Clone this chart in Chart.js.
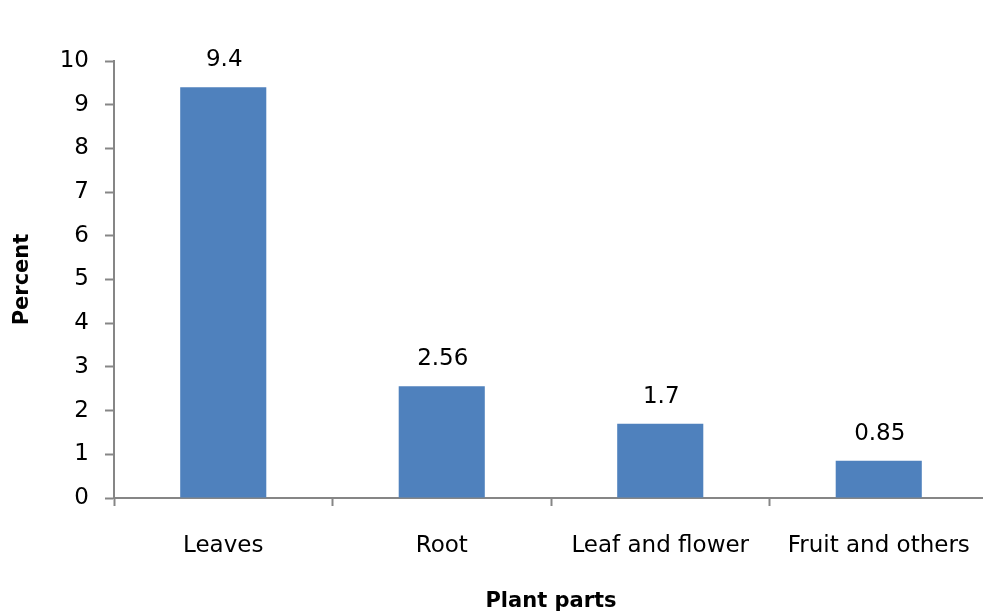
<!DOCTYPE html>
<html>
<head>
<meta charset="utf-8">
<script src="https://cdn.jsdelivr.net/npm/chart.js@4/dist/chart.umd.min.js"></script>
<style>
  html, body { margin: 0; padding: 0; background: #ffffff; overflow: hidden; }
  #wrap { position: relative; width: 988px; height: 614px; }
</style>
</head>
<body>
<div id="wrap"><canvas id="chart"></canvas></div>
<script>
// Share of plant parts used
const categories = ['Leaves', 'Root', 'Leaf and flower', 'Fruit and others'];
const percentValues = [9.4, 2.56, 1.7, 0.85];
const yTicks = [0, 1, 2, 3, 4, 5, 6, 7, 8, 9, 10];

const FONT = '"DejaVu Sans", Verdana, sans-serif';
const AXIS_GREY = '#868686';

// Writes each bar's value above it
const valueLabels = {
  id: 'valueLabels',
  afterDatasetsDraw(chart) {
    const ctx = chart.ctx;
    const meta = chart.getDatasetMeta(0);
    ctx.save();
    ctx.font = '23px ' + FONT;
    ctx.fillStyle = '#000000';
    ctx.textAlign = 'center';
    ctx.textBaseline = 'middle';
    meta.data.forEach((bar, i) => {
      ctx.fillText(String(percentValues[i]), bar.x + 1, bar.y - 27);
    });
    ctx.restore();
  }
};

new Chart(document.getElementById('chart'), {
  type: 'bar',
  data: {
    labels: categories,
    datasets: [{
      data: percentValues,
      backgroundColor: '#4F81BD',
      borderWidth: 0,
      categoryPercentage: 1,
      barPercentage: 0.394
    }]
  },
  options: {
    responsive: true,
    maintainAspectRatio: false,
    animation: false,
    layout: { padding: { left: 0, right: 0, top: 61, bottom: 0 } },
    plugins: {
      legend: { display: false },
      tooltip: { enabled: false }
    },
    scales: {
      x: {
        offset: true,
        grid: {
          offset: true,
          drawOnChartArea: false,
          drawTicks: true,
          tickLength: 8,
          tickColor: AXIS_GREY,
          tickWidth: 2
        },
        border: { color: AXIS_GREY, width: 2 },
        ticks: {
          color: '#000000',
          font: { family: FONT, size: 23 },
          padding: 26,
          maxRotation: 0,
          autoSkip: false
        },
        title: {
          display: true,
          text: 'Plant parts',
          color: '#000000',
          font: { family: FONT, size: 21, weight: 'bold' },
          padding: { top: 12, bottom: 0 }
        },
        afterFit(scale) {
          scale.height = 116;
          scale.paddingLeft = 0;
          scale.paddingRight = 0;
        }
      },
      y: {
        min: 0,
        max: 10,
        afterBuildTicks(scale) { scale.ticks = yTicks.map(v => ({ value: v })); },
        grid: {
          drawOnChartArea: false,
          drawTicks: true,
          tickLength: 9,
          tickColor: AXIS_GREY,
          tickWidth: 2
        },
        border: { color: AXIS_GREY, width: 2 },
        ticks: {
          color: '#000000',
          font: { family: FONT, size: 23 },
          padding: 16
        },
        title: {
          display: true,
          text: 'Percent',
          color: '#000000',
          font: { family: FONT, size: 21, weight: 'bold' },
          padding: { top: 10, bottom: 0 }
        },
        afterFit(scale) { scale.width = 114; }
      }
    }
  },
  plugins: [valueLabels]
});
</script>
</body>
</html>
